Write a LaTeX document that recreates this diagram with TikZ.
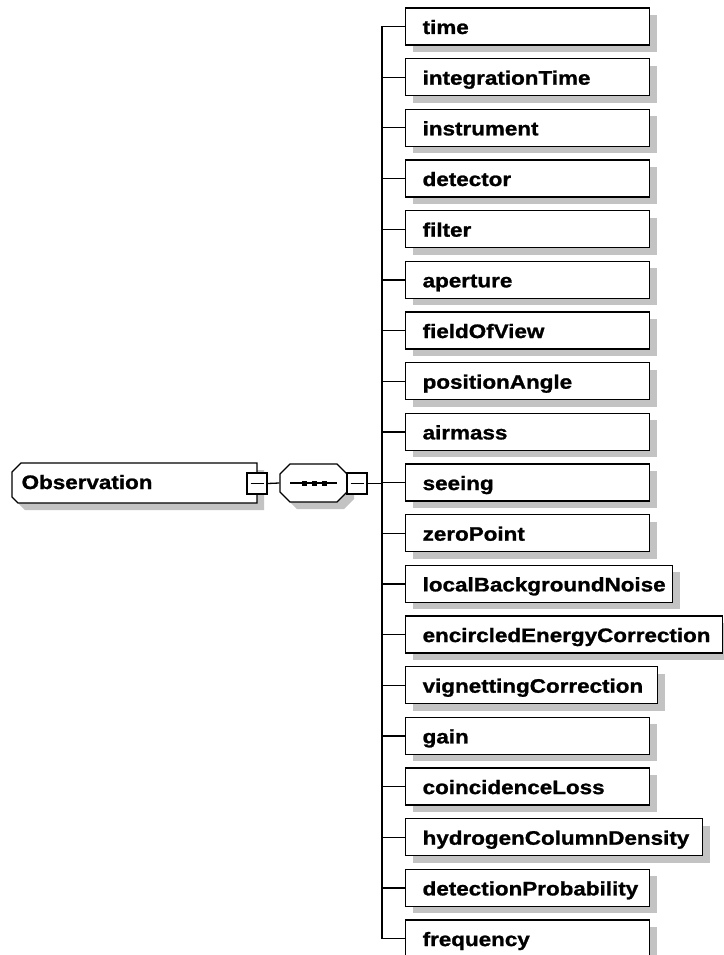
\documentclass[tikz,border=0pt]{standalone}
\usepackage{fontspec}
\newfontfamily\xsfont{Liberation Sans}[FakeStretch=1.15,FakeBold=1.2]
\usetikzlibrary{shadows}
\definecolor{shgray}{RGB}{195,195,195}
\begin{document}
\begin{tikzpicture}[x=1pt,y=-1pt,line width=1.3pt,
  txt/.style={font={\xsfont\bfseries\fontsize{19.5}{22}\selectfont}},
  elem/.style={txt,rectangle,draw=black,fill=white,anchor=west,
    minimum height=37pt,inner xsep=17pt,inner ysep=0pt,
    text height=16pt,text depth=1pt,align=left,
    general shadow={fill=shgray,shadow xshift=7pt,shadow yshift=-7pt}},
  obsnode/.style={txt,rectangle,anchor=west,minimum height=40pt,
    inner xsep=9pt,inner ysep=0pt,text width=227pt,
    text height=13pt,text depth=1pt,align=left},
  minusbox/.style={rectangle,draw=black,fill=white,minimum width=20pt,
    minimum height=21pt,inner sep=0pt},
  seqnode/.style={rectangle,minimum width=67pt,minimum height=38pt,inner sep=0pt},
  seqdot/.style={rectangle,fill=black,minimum size=5pt,inner sep=0pt},
  conn/.style={draw=black,line width=1.3pt}]
\useasboundingbox (0,0) rectangle (723,955);
% Observation element (chamfered on the left)
\fill[shgray] (19,479) -- (28,470) -- (264,470) -- (264,510) -- (25,510) -- (19,504) -- cycle;
\draw[fill=white] (12,472) -- (21,463) -- (257,463) -- (257,503) -- (18,503) -- (12,497) -- cycle;
\node[obsnode] (obs) at (12,483) {\mbox{Observation}};
\node[minusbox] (obsm) at (257,483.5) {};
\draw ([xshift=-6.5pt]obsm.center) -- ([xshift=6.5pt]obsm.center);
% sequence compositor
\fill[shgray] (287,481) -- (297,471) -- (344,471) -- (354,481) -- (354,499) -- (344,509) -- (297,509) -- (287,499) -- cycle;
\draw[fill=white] (280,474) -- (290,464) -- (337,464) -- (347,474) -- (347,492) -- (337,502) -- (290,502) -- (280,492) -- cycle;
\node[seqnode] (seq) at (313.5,483) {};
\draw ([xshift=-23.5pt]seq.center) -- ([xshift=23.5pt]seq.center);
\node[seqdot] (d1) at ([xshift=-9.5pt]seq.center) {};
\node[seqdot] (d2) at ([xshift=0.5pt]seq.center) {};
\node[seqdot] (d3) at ([xshift=10.5pt]seq.center) {};
\node[minusbox] (seqm) at (357,483.5) {};
\draw ([xshift=-6.5pt]seqm.center) -- ([xshift=6.5pt]seqm.center);
\draw[conn] (obsm.east) -- (seq.west);
% children
\foreach \n/\w [count=\i from 0] in {time/244,integrationTime/244,instrument/244,detector/244,filter/244,aperture/244,fieldOfView/244,positionAngle/244,airmass/244,seeing/244,zeroPoint/244,localBackgroundNoise/267,encircledEnergyCorrection/317,vignettingCorrection/252,gain/244,coincidenceLoss/244,hydrogenColumnDensity/297,detectionProbability/244,frequency/244}{
  \pgfmathsetmacro\tw{\w-34}
  \node[elem,text width=\tw pt] (c\i) at (405,{26.5+50.67*\i}) {\mbox{\n}};
}
\coordinate (tt) at ([xshift=-23pt]c0.west);
\coordinate (tb) at ([xshift=-23pt]c18.west);
\draw[conn] (tt) -- (tb);
\draw[conn] (seqm.east) -- (seqm.east -| tt);
\foreach \i in {0,...,18}{
  \draw[conn] (c\i.west) -- (c\i.west -| tt);
}
\end{tikzpicture}
\end{document}
